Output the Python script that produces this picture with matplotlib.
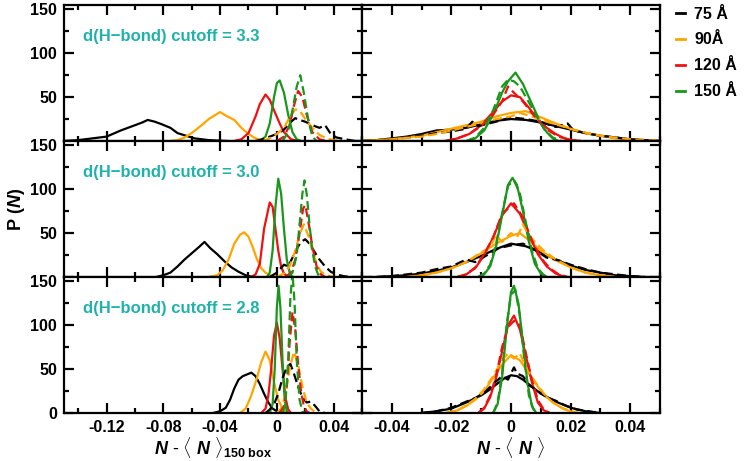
import numpy as np
import matplotlib
matplotlib.use("Agg")
import matplotlib.pyplot as plt
from matplotlib.lines import Line2D
from matplotlib.ticker import MultipleLocator

# box sizes / colours
sizes = ['75 Å', '90Å', '120 Å', '150 Å']
colors = ['black', '#ffa500', '#f01010', '#1a961a']
cutoffs = ['3.3', '3.0', '2.8']

# left column: N - <N>_150 box ; (x, P) pairs, solid and dashed (d)
l33_75 = [(-0.15, 0), (-0.14, 1), (-0.13, 3), (-0.12, 5), (-0.11, 12), (-0.10, 18), (-0.095, 21), (-0.091, 24),
          (-0.086, 22), (-0.081, 19), (-0.075, 15), (-0.07, 9), (-0.064, 6), (-0.058, 3), (-0.048, 1), (-0.035, 0)]
l33_90 = [(-0.075, 0), (-0.07, 1), (-0.065, 4), (-0.06, 9), (-0.053, 18), (-0.048, 25), (-0.044, 29), (-0.04, 33),
          (-0.036, 29), (-0.03, 24), (-0.025, 15), (-0.02, 8), (-0.015, 3), (-0.01, 1), (-0.005, 0)]
l33_120 = [(-0.03, 0), (-0.025, 2), (-0.02, 9), (-0.015, 28), (-0.012, 42), (-0.008, 53), (-0.005, 47),
           (-0.002, 35), (0.002, 20), (0.005, 10), (0.01, 2), (0.015, 0)]
l33_150 = [(-0.012, 0), (-0.008, 5), (-0.005, 20), (-0.002, 50), (0.0, 66), (0.002, 69), (0.005, 55),
           (0.008, 30), (0.011, 10), (0.014, 2), (0.017, 0)]
l33_75d = [(-0.015, 0), (-0.01, 2), (-0.005, 5), (0.0, 8), (0.005, 13), (0.01, 22), (0.013, 26), (0.016, 24),
           (0.02, 22), (0.025, 18), (0.03, 15), (0.034, 18), (0.038, 8), (0.042, 4), (0.048, 2), (0.055, 0)]
l33_90d = [(-0.01, 0), (-0.005, 3), (0.0, 8), (0.005, 15), (0.01, 30), (0.013, 36), (0.016, 35), (0.02, 25),
           (0.025, 15), (0.03, 7), (0.035, 3), (0.04, 1), (0.045, 0)]
l33_120d = [(0.0, 0), (0.005, 5), (0.009, 18), (0.012, 40), (0.015, 57), (0.018, 50), (0.021, 30),
            (0.025, 10), (0.03, 2), (0.035, 0)]
l33_150d = [(0.004, 0), (0.008, 10), (0.011, 35), (0.014, 62), (0.0165, 75), (0.019, 55), (0.022, 25),
            (0.025, 5), (0.028, 0)]

l30_75 = [(-0.085, 0), (-0.08, 2), (-0.075, 5), (-0.07, 12), (-0.065, 20), (-0.06, 27), (-0.055, 34), (-0.051, 40),
          (-0.047, 33), (-0.042, 26), (-0.037, 18), (-0.032, 11), (-0.027, 6), (-0.022, 2), (-0.017, 0)]
l30_90 = [(-0.048, 0), (-0.042, 2), (-0.038, 8), (-0.034, 20), (-0.03, 38), (-0.026, 48), (-0.023, 51),
          (-0.02, 46), (-0.017, 34), (-0.014, 20), (-0.011, 10), (-0.008, 5), (-0.005, 2), (0.0, 0)]
l30_120 = [(-0.018, 0), (-0.015, 3), (-0.012, 15), (-0.009, 55), (-0.007, 70), (-0.005, 85), (-0.003, 80),
           (-0.001, 55), (0.001, 30), (0.003, 12), (0.005, 4), (0.008, 0)]
l30_150 = [(-0.007, 0), (-0.005, 5), (-0.003, 30), (-0.001, 80), (0.001, 112), (0.003, 95), (0.005, 55),
           (0.007, 20), (0.009, 5), (0.011, 0)]
l30_75d = [(-0.005, 0), (0.0, 5), (0.005, 14), (0.008, 12), (0.011, 22), (0.014, 32), (0.017, 40), (0.02, 43),
           (0.023, 38), (0.026, 30), (0.03, 20), (0.034, 12), (0.038, 6), (0.042, 3), (0.047, 1), (0.052, 0)]
l30_90d = [(0.0, 0), (0.005, 4), (0.009, 12), (0.013, 30), (0.016, 48), (0.019, 60), (0.022, 48), (0.025, 30),
           (0.028, 15), (0.031, 6), (0.035, 2), (0.04, 0)]
l30_120d = [(0.006, 0), (0.01, 5), (0.013, 20), (0.016, 50), (0.0185, 78), (0.02, 82), (0.022, 65),
            (0.025, 35), (0.028, 12), (0.031, 3), (0.034, 0)]
l30_150d = [(0.008, 0), (0.011, 5), (0.014, 25), (0.016, 60), (0.018, 95), (0.0195, 110), (0.021, 95),
            (0.023, 60), (0.025, 30), (0.027, 12), (0.029, 3), (0.031, 0)]

l28_75 = [(-0.045, 0), (-0.04, 2), (-0.036, 6), (-0.033, 15), (-0.03, 28), (-0.027, 38), (-0.024, 42),
          (-0.021, 44), (-0.018, 46), (-0.015, 42), (-0.012, 33), (-0.009, 22), (-0.006, 12), (-0.003, 5),
          (0.0, 2), (0.004, 0)]
l28_90 = [(-0.026, 0), (-0.022, 5), (-0.018, 20), (-0.014, 40), (-0.011, 58), (-0.008, 70), (-0.005, 60),
          (-0.002, 35), (0.001, 15), (0.004, 5), (0.007, 0)]
l28_120 = [(-0.011, 0), (-0.008, 5), (-0.006, 20), (-0.004, 50), (-0.002, 88), (0.0, 103), (0.002, 85),
           (0.004, 50), (0.006, 18), (0.008, 4), (0.01, 0)]
l28_150 = [(-0.005, 0), (-0.003, 10), (-0.0015, 50), (0.0, 120), (0.0012, 145), (0.0025, 120), (0.004, 60),
           (0.0055, 15), (0.007, 2), (0.008, 0)]
l28_75d = [(-0.008, 0), (-0.005, 4), (-0.002, 10), (0.001, 22), (0.004, 40), (0.007, 52), (0.0095, 56),
           (0.012, 45), (0.015, 30), (0.018, 18), (0.021, 12), (0.024, 13), (0.027, 8), (0.03, 2), (0.034, 0)]
l28_90d = [(0.0, 0), (0.003, 5), (0.006, 20), (0.009, 50), (0.012, 70), (0.015, 55), (0.018, 30), (0.021, 12),
           (0.024, 5), (0.027, 1), (0.03, 0)]
l28_120d = [(0.002, 0), (0.005, 8), (0.007, 30), (0.009, 80), (0.011, 115), (0.013, 95), (0.015, 55),
            (0.017, 25), (0.019, 8), (0.021, 2), (0.023, 0)]
l28_150d = [(0.004, 0), (0.006, 10), (0.008, 60), (0.0095, 130), (0.011, 160), (0.0125, 125), (0.014, 60),
            (0.016, 15), (0.018, 2), (0.02, 0)]

# right column: N - <N>
r33_75 = [(-0.05, 0), (-0.045, 1), (-0.04, 3), (-0.035, 5), (-0.03, 8), (-0.025, 12), (-0.02, 13), (-0.015, 15),
          (-0.01, 19), (-0.005, 23), (0.0, 25), (0.005, 24), (0.01, 21), (0.015, 17), (0.02, 13), (0.025, 9),
          (0.03, 6), (0.035, 4), (0.04, 2), (0.045, 1), (0.05, 0)]
r33_90 = [(-0.05, 0), (-0.04, 2), (-0.03, 6), (-0.025, 10), (-0.02, 14), (-0.015, 18), (-0.01, 22), (-0.005, 28),
          (0.0, 32), (0.005, 34), (0.01, 27), (0.015, 20), (0.02, 14), (0.025, 9), (0.03, 6), (0.035, 3),
          (0.04, 2), (0.05, 0)]
r33_120 = [(-0.022, 0), (-0.018, 3), (-0.014, 8), (-0.01, 18), (-0.006, 33), (-0.003, 45), (0.0, 52), (0.003, 50),
           (0.006, 38), (0.009, 25), (0.012, 15), (0.015, 8), (0.018, 3), (0.022, 0)]
r33_150 = [(-0.015, 0), (-0.012, 3), (-0.009, 12), (-0.006, 30), (-0.003, 55), (-0.001, 68), (0.0015, 78),
           (0.004, 65), (0.006, 50), (0.008, 35), (0.01, 20), (0.012, 10), (0.014, 3), (0.016, 0)]
r33_75d = [(-0.05, 0), (-0.04, 2), (-0.03, 6), (-0.025, 9), (-0.02, 11), (-0.015, 14), (-0.013, 22), (-0.011, 17),
           (-0.005, 22), (0.0, 27), (0.005, 25), (0.01, 22), (0.015, 16), (0.019, 20), (0.021, 12), (0.025, 9),
           (0.03, 6), (0.035, 4), (0.04, 2), (0.05, 0)]
r33_90d = [(-0.05, 0), (-0.04, 2), (-0.03, 5), (-0.025, 8), (-0.02, 12), (-0.015, 16), (-0.01, 20), (-0.005, 25),
           (0.0, 28), (0.003, 32), (0.007, 28), (0.012, 22), (0.017, 17), (0.022, 12), (0.027, 8), (0.032, 5),
           (0.04, 2), (0.05, 0)]
r33_120d = [(-0.022, 0), (-0.018, 3), (-0.014, 8), (-0.01, 17), (-0.006, 30), (-0.003, 45), (-0.001, 62),
            (0.001, 55), (0.004, 45), (0.007, 32), (0.01, 20), (0.013, 11), (0.016, 5), (0.02, 1), (0.024, 0)]
r33_150d = [(-0.015, 0), (-0.012, 4), (-0.009, 15), (-0.006, 35), (-0.003, 62), (-0.001, 70), (0.001, 68),
            (0.003, 62), (0.005, 50), (0.008, 32), (0.011, 14), (0.014, 4), (0.017, 0)]

r30_75 = [(-0.045, 0), (-0.04, 1), (-0.035, 2), (-0.03, 4), (-0.025, 7), (-0.02, 11), (-0.015, 17), (-0.01, 24),
          (-0.005, 32), (0.0, 38), (0.005, 35), (0.01, 28), (0.015, 20), (0.02, 13), (0.025, 8), (0.03, 5),
          (0.035, 2), (0.04, 1), (0.045, 0)]
r30_90 = [(-0.035, 0), (-0.03, 2), (-0.025, 5), (-0.02, 10), (-0.015, 17), (-0.01, 27), (-0.005, 38), (0.0, 47),
          (0.003, 50), (0.006, 42), (0.01, 30), (0.015, 19), (0.02, 11), (0.025, 5), (0.03, 2), (0.035, 0)]
r30_120 = [(-0.018, 0), (-0.015, 3), (-0.012, 10), (-0.009, 25), (-0.006, 45), (-0.003, 70), (0.0, 84),
           (0.003, 72), (0.006, 48), (0.009, 26), (0.012, 12), (0.015, 4), (0.018, 0)]
r30_150 = [(-0.011, 0), (-0.009, 3), (-0.007, 12), (-0.005, 35), (-0.003, 70), (-0.001, 105), (0.0005, 113),
           (0.002, 105), (0.004, 75), (0.006, 40), (0.008, 15), (0.01, 4), (0.012, 0)]
r30_75d = [(-0.045, 0), (-0.04, 1), (-0.035, 3), (-0.03, 5), (-0.025, 9), (-0.02, 12), (-0.015, 20), (-0.012, 17),
           (-0.008, 25), (-0.004, 33), (0.0, 36), (0.004, 38), (0.008, 31), (0.012, 22), (0.016, 19), (0.02, 14),
           (0.025, 9), (0.03, 5), (0.035, 3), (0.04, 1), (0.045, 0)]
r30_90d = [(-0.035, 0), (-0.03, 2), (-0.025, 5), (-0.02, 10), (-0.015, 17), (-0.01, 28), (-0.007, 34),
           (-0.005, 48), (-0.003, 40), (0.0, 50), (0.002, 45), (0.004, 60), (0.006, 48), (0.008, 40), (0.011, 30),
           (0.015, 20), (0.02, 11), (0.025, 5), (0.03, 2), (0.035, 0)]
r30_120d = [(-0.018, 0), (-0.015, 3), (-0.012, 11), (-0.009, 26), (-0.006, 45), (-0.003, 72), (-0.001, 78),
            (0.001, 84), (0.004, 68), (0.007, 42), (0.01, 22), (0.013, 10), (0.016, 3), (0.019, 0)]
r30_150d = [(-0.011, 0), (-0.009, 4), (-0.007, 14), (-0.005, 38), (-0.003, 72), (-0.001, 104), (0.001, 110),
            (0.003, 95), (0.005, 62), (0.007, 30), (0.009, 10), (0.011, 2), (0.013, 0)]

r28_75 = [(-0.03, 0), (-0.025, 2), (-0.02, 5), (-0.015, 12), (-0.01, 20), (-0.007, 27), (-0.004, 35),
          (-0.002, 40), (0.0, 43), (0.002, 42), (0.004, 38), (0.007, 30), (0.01, 22), (0.015, 13), (0.02, 6),
          (0.025, 2), (0.03, 0)]
r28_90 = [(-0.022, 0), (-0.018, 3), (-0.015, 8), (-0.012, 15), (-0.009, 25), (-0.006, 40), (-0.003, 55),
          (0.0, 66), (0.003, 60), (0.006, 45), (0.009, 30), (0.012, 18), (0.015, 10), (0.018, 4), (0.022, 0)]
r28_120 = [(-0.011, 0), (-0.009, 5), (-0.007, 18), (-0.005, 40), (-0.003, 70), (-0.001, 100), (0.001, 111),
           (0.003, 95), (0.005, 65), (0.007, 35), (0.009, 12), (0.011, 3), (0.013, 0)]
r28_150 = [(-0.006, 0), (-0.0045, 10), (-0.003, 40), (-0.0015, 95), (0.0, 138), (0.001, 145), (0.0025, 125),
           (0.004, 80), (0.0055, 35), (0.007, 8), (0.0085, 0)]
r28_75d = [(-0.03, 0), (-0.025, 2), (-0.02, 6), (-0.015, 13), (-0.012, 17), (-0.009, 23), (-0.006, 33),
           (-0.003, 42), (-0.001, 38), (0.001, 52), (0.002, 45), (0.004, 42), (0.006, 32), (0.009, 25),
           (0.012, 18), (0.015, 14), (0.018, 9), (0.022, 4), (0.026, 2), (0.03, 0)]
r28_90d = [(-0.022, 0), (-0.018, 3), (-0.015, 9), (-0.012, 16), (-0.009, 27), (-0.006, 42), (-0.003, 60),
           (-0.001, 68), (0.001, 62), (0.003, 68), (0.005, 52), (0.008, 36), (0.011, 22), (0.014, 12),
           (0.017, 6), (0.02, 2), (0.023, 0)]
r28_120d = [(-0.011, 0), (-0.009, 6), (-0.007, 20), (-0.005, 42), (-0.003, 75), (-0.001, 98), (0.001, 105),
            (0.003, 100), (0.005, 68), (0.007, 38), (0.009, 15), (0.011, 4), (0.013, 0)]
r28_150d = [(-0.006, 0), (-0.0045, 12), (-0.003, 45), (-0.0015, 100), (0.0, 135), (0.0015, 140), (0.003, 110),
            (0.0045, 60), (0.006, 20), (0.0075, 4), (0.009, 0)]

left_curves = [
    ([l33_75, l33_90, l33_120, l33_150], [l33_75d, l33_90d, l33_120d, l33_150d]),
    ([l30_75, l30_90, l30_120, l30_150], [l30_75d, l30_90d, l30_120d, l30_150d]),
    ([l28_75, l28_90, l28_120, l28_150], [l28_75d, l28_90d, l28_120d, l28_150d]),
]
right_curves = [
    ([r33_75, r33_90, r33_120, r33_150], [r33_75d, r33_90d, r33_120d, r33_150d]),
    ([r30_75, r30_90, r30_120, r30_150], [r30_75d, r30_90d, r30_120d, r30_150d]),
    ([r28_75, r28_90, r28_120, r28_150], [r28_75d, r28_90d, r28_120d, r28_150d]),
]

plt.rcParams['font.family'] = ['Liberation Sans', 'DejaVu Sans']
plt.rcParams['font.weight'] = 'bold'
plt.rcParams['mathtext.fontset'] = 'custom'
plt.rcParams['mathtext.rm'] = 'Liberation Sans:bold'
plt.rcParams['mathtext.it'] = 'Liberation Sans:bold:italic'
plt.rcParams['mathtext.bf'] = 'Liberation Sans:bold'

fig = plt.figure(figsize=(7.44, 4.61), dpi=100)
x0, w = 64 / 744, 298 / 744
h = 136 / 461
b0 = 48 / 461
teal = '#20b2aa'


def style(ax, xlim, major, minor):
    ax.set_xlim(*xlim)
    ax.set_ylim(0, 155)
    ax.xaxis.set_major_locator(MultipleLocator(major))
    ax.xaxis.set_minor_locator(MultipleLocator(minor))
    ax.yaxis.set_major_locator(MultipleLocator(50))
    ax.yaxis.set_minor_locator(MultipleLocator(25))
    ax.tick_params(which='both', direction='in', top=True, right=True, width=1.6, labelsize=11.5, pad=5)
    ax.tick_params(which='major', length=7.5)
    ax.tick_params(which='minor', length=3.5)
    for s in ax.spines.values():
        s.set_linewidth(1.6)


for row in range(3):
    bottom = b0 + (2 - row) * h
    for col, curves in enumerate([left_curves, right_curves]):
        ax = fig.add_axes([x0 + col * w, bottom, w, h])
        solid, dashed = curves[row]
        for data, c in zip(solid, colors):
            x, y = np.array(data).T
            ax.plot(x, y, color=c, lw=1.6)
        for data, c in zip(dashed, colors):
            x, y = np.array(data).T
            ax.plot(x, y, color=c, lw=1.6, ls=(0, (4, 2)))
        if col == 0:
            style(ax, (-0.15, 0.06), 0.04, 0.02)
            ax.set_xticks([-0.12, -0.08, -0.04, 0, 0.04])
            ax.set_xticklabels(['-0.12', '-0.08', '-0.04', '0', '0.04'])
            ax.set_yticks([0, 50, 100, 150])
            ax.set_yticklabels(['0' if row == 2 else '', '50', '100', '150'])
            ax.text(0.064, 0.77, 'd(H\u2212bond) cutoff = ' + cutoffs[row], transform=ax.transAxes,
                    color=teal, fontsize=12, fontweight='bold', va='center')
        else:
            style(ax, (-0.05, 0.05), 0.02, 0.01)
            ax.set_xticks([-0.04, -0.02, 0, 0.02, 0.04])
            ax.set_xticklabels(['-0.04', '-0.02', '0', '0.02', '0.04'])
            ax.tick_params(labelleft=False)
        if row < 2:
            ax.tick_params(labelbottom=False)
        else:
            if col == 0:
                ax.set_xlabel(r'$N$ - $\langle$ $N$ $\rangle_{\mathrm{150\ box}}$', fontsize=13, labelpad=0)
            else:
                ax.set_xlabel(r'$N$ - $\langle$ $N$ $\rangle$', fontsize=13, labelpad=0)

fig.text(0.022, b0 + 1.5 * h, r'P ($N$)', rotation=90, fontsize=13, va='center', ha='center')

handles = [Line2D([], [], color=c, lw=2) for c in colors]
fig.legend(handles, sizes, loc='upper left', bbox_to_anchor=(671 / 744, 0.996), frameon=False,
           borderaxespad=0, borderpad=0.3, handlelength=0.6, handletextpad=0.55,
           labelspacing=0.68, fontsize=11.5)

fig.savefig('out.png', dpi=100)
